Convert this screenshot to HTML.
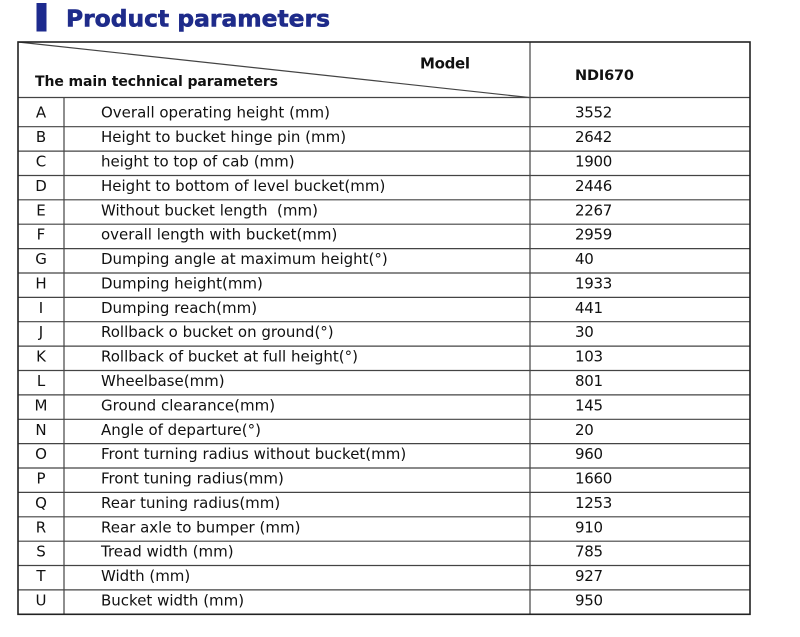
<!DOCTYPE html>
<html>
<head>
<meta charset="utf-8">
<style>
  html, body { margin: 0; padding: 0; background: #fff; }
  svg { display: block; }
  text { font-family: "DejaVu Sans", "Liberation Sans", sans-serif; fill: #111; }
  .t { font-size: 15px; }
  .l { font-size: 15px; }
  .v { font-size: 15px; letter-spacing: -0.3px; }
  .b { font-weight: bold; }
</style>
</head>
<body>
<svg width="800" height="637" viewBox="0 0 800 637" xmlns="http://www.w3.org/2000/svg">
  <rect x="0" y="0" width="800" height="637" fill="#fff"/>
  <!-- Title -->
  <rect x="36.5" y="3" width="10" height="28.5" fill="#1d2a8e"/>
  <text x="66" y="26.5" class="b" style="font-size:23.5px; fill:#1e2b8a; stroke:#1e2b8a; stroke-width:0.6;" textLength="264" lengthAdjust="spacingAndGlyphs">Product parameters</text>

  <!-- Table lines -->
  <g stroke="#444" stroke-width="1.2" fill="none">
    <line x1="18" y1="97.5" x2="750" y2="97.5"/>
    <line x1="18" y1="126.7" x2="750" y2="126.7"/>
    <line x1="18" y1="151.1" x2="750" y2="151.1"/>
    <line x1="18" y1="175.5" x2="750" y2="175.5"/>
    <line x1="18" y1="199.8" x2="750" y2="199.8"/>
    <line x1="18" y1="224.2" x2="750" y2="224.2"/>
    <line x1="18" y1="248.6" x2="750" y2="248.6"/>
    <line x1="18" y1="273.0" x2="750" y2="273.0"/>
    <line x1="18" y1="297.4" x2="750" y2="297.4"/>
    <line x1="18" y1="321.7" x2="750" y2="321.7"/>
    <line x1="18" y1="346.1" x2="750" y2="346.1"/>
    <line x1="18" y1="370.5" x2="750" y2="370.5"/>
    <line x1="18" y1="394.9" x2="750" y2="394.9"/>
    <line x1="18" y1="419.3" x2="750" y2="419.3"/>
    <line x1="18" y1="443.6" x2="750" y2="443.6"/>
    <line x1="18" y1="468.0" x2="750" y2="468.0"/>
    <line x1="18" y1="492.4" x2="750" y2="492.4"/>
    <line x1="18" y1="516.8" x2="750" y2="516.8"/>
    <line x1="18" y1="541.2" x2="750" y2="541.2"/>
    <line x1="18" y1="565.5" x2="750" y2="565.5"/>
    <line x1="18" y1="589.9" x2="750" y2="589.9"/>
    <line x1="64" y1="97.5" x2="64" y2="614.3"/>
    <line x1="530" y1="42" x2="530" y2="614.3"/>
    <line x1="18" y1="42" x2="529" y2="97.5"/>
  </g>
  <rect x="18" y="42" width="732" height="572.3" fill="none" stroke="#222" stroke-width="1.6"/>

  <!-- Header -->
  <text x="420" y="68.3" class="b" style="font-size:15px" textLength="50" lengthAdjust="spacing">Model</text>
  <text x="575" y="80" class="b" style="font-size:14.5px" textLength="59" lengthAdjust="spacing">NDI670</text>
  <text x="35" y="86" class="b" style="font-size:14px" textLength="243" lengthAdjust="spacing">The main technical parameters</text>

  <!-- Letters -->
  <g class="l" text-anchor="middle">
    <text x="41" y="117.7">A</text>
    <text x="41" y="142.2">B</text>
    <text x="41" y="166.6">C</text>
    <text x="41" y="191.0">D</text>
    <text x="41" y="215.3">E</text>
    <text x="41" y="239.7">F</text>
    <text x="41" y="264.1">G</text>
    <text x="41" y="288.5">H</text>
    <text x="41" y="312.9">I</text>
    <text x="41" y="337.2">J</text>
    <text x="41" y="361.6">K</text>
    <text x="41" y="386.0">L</text>
    <text x="41" y="410.4">M</text>
    <text x="41" y="434.8">N</text>
    <text x="41" y="459.1">O</text>
    <text x="41" y="483.5">P</text>
    <text x="41" y="507.9">Q</text>
    <text x="41" y="532.3">R</text>
    <text x="41" y="556.7">S</text>
    <text x="41" y="581.0">T</text>
    <text x="41" y="605.4">U</text>
  </g>

  <!-- Descriptions -->
  <g class="t">
    <text x="101" y="117.7">Overall operating height (mm)</text>
    <text x="101" y="142.2">Height to bucket hinge pin (mm)</text>
    <text x="101" y="166.6">height to top of cab (mm)</text>
    <text x="101" y="191.0">Height to bottom of level bucket(mm)</text>
    <text x="101" y="215.3" style="white-space:pre">Without bucket length  (mm)</text>
    <text x="101" y="239.7">overall length with bucket(mm)</text>
    <text x="101" y="264.1">Dumping angle at maximum height(°)</text>
    <text x="101" y="288.5">Dumping height(mm)</text>
    <text x="101" y="312.9">Dumping reach(mm)</text>
    <text x="101" y="337.2">Rollback o bucket on ground(°)</text>
    <text x="101" y="361.6">Rollback of bucket at full height(°)</text>
    <text x="101" y="386.0">Wheelbase(mm)</text>
    <text x="101" y="410.4">Ground clearance(mm)</text>
    <text x="101" y="434.8">Angle of departure(°)</text>
    <text x="101" y="459.1">Front turning radius without bucket(mm)</text>
    <text x="101" y="483.5">Front tuning radius(mm)</text>
    <text x="101" y="507.9">Rear tuning radius(mm)</text>
    <text x="101" y="532.3">Rear axle to bumper (mm)</text>
    <text x="101" y="556.7">Tread width (mm)</text>
    <text x="101" y="581.0">Width (mm)</text>
    <text x="101" y="605.4">Bucket width (mm)</text>
  </g>

  <!-- Values -->
  <g class="v">
    <text x="575" y="117.7">3552</text>
    <text x="575" y="142.2">2642</text>
    <text x="575" y="166.6">1900</text>
    <text x="575" y="191.0">2446</text>
    <text x="575" y="215.3">2267</text>
    <text x="575" y="239.7">2959</text>
    <text x="575" y="264.1">40</text>
    <text x="575" y="288.5">1933</text>
    <text x="575" y="312.9">441</text>
    <text x="575" y="337.2">30</text>
    <text x="575" y="361.6">103</text>
    <text x="575" y="386.0">801</text>
    <text x="575" y="410.4">145</text>
    <text x="575" y="434.8">20</text>
    <text x="575" y="459.1">960</text>
    <text x="575" y="483.5">1660</text>
    <text x="575" y="507.9">1253</text>
    <text x="575" y="532.3">910</text>
    <text x="575" y="556.7">785</text>
    <text x="575" y="581.0">927</text>
    <text x="575" y="605.4">950</text>
  </g>
</svg>
</body>
</html>
